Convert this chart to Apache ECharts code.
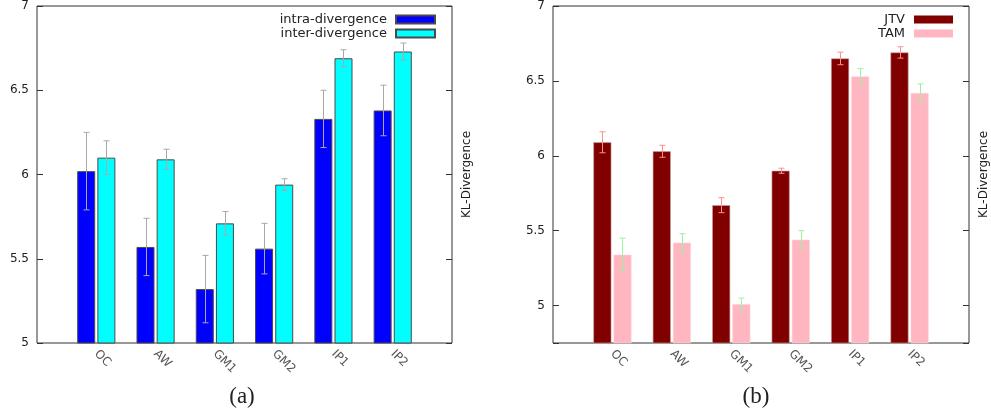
<!DOCTYPE html>
<html>
<head>
<meta charset="utf-8">
<script src="https://cdn.jsdelivr.net/npm/echarts@6/dist/echarts.min.js"></script>
<style>
  html, body { margin: 0; padding: 0; background: #fff; }
  #chart { width: 991px; height: 412px; }
</style>
</head>
<body>
<div id="chart"></div>
<script>
// categories (blank slot at both ends, like the gnuplot original)
const categories = ['OC', 'AW', 'GM1', 'GM2', 'IP1', 'IP2'];

// (a) intra / inter divergence
const intraValues = [6.02, 5.57, 5.32, 5.56, 6.33, 6.38];
const intraErr = [0.23, 0.17, 0.2, 0.15, 0.17, 0.15];
const interValues = [6.10, 6.09, 5.71, 5.94, 6.69, 6.73];
const interErr = [0.1, 0.06, 0.07, 0.035, 0.05, 0.05];

// (b) JTV / TAM
const jtvValues = [6.09, 6.03, 5.67, 5.90, 6.65, 6.69];
const jtvErr = [0.07, 0.04, 0.05, 0.017, 0.042, 0.038];
const tamValues = [5.34, 5.42, 5.01, 5.44, 6.53, 6.42];
const tamErr = [0.11, 0.06, 0.04, 0.06, 0.052, 0.06];

const FONT = 'DejaVu Sans';
const axisData = [''].concat(categories, ['']);
const pad = arr => [null].concat(arr, [null]);
const errData = (vals, errs) => vals.map((v, i) => [i + 1, v - errs[i], v + errs[i]]);

// error bar drawn beside the category tick
function errorItem(offset, color) {
  return function (params, api) {
    const x = api.value(0);
    const lo = api.coord([x, api.value(1)]);
    const hi = api.coord([x, api.value(2)]);
    const cx = Math.round(lo[0] + offset) + 0.5;
    const style = { stroke: color, lineWidth: 1 };
    return {
      type: 'group',
      children: [
        { type: 'line', shape: { x1: cx, y1: hi[1], x2: cx, y2: lo[1] }, style: style },
        { type: 'line', shape: { x1: cx - 3, y1: hi[1], x2: cx + 3, y2: hi[1] }, style: style },
        { type: 'line', shape: { x1: cx - 3, y1: lo[1], x2: cx + 3, y2: lo[1] }, style: style }
      ]
    };
  };
}

function xAxisFor(gridIndex) {
  return {
    type: 'category', gridIndex: gridIndex, data: axisData, boundaryGap: false,
    axisLine: { show: false }, axisTick: { show: false },
    axisLabel: { rotate: -45, margin: 9, color: '#555', fontSize: 12, fontFamily: FONT, interval: 0 }
  };
}

function yAxesFor(gridIndex, min) {
  const common = {
    type: 'value', gridIndex: gridIndex, min: min, max: 7,
    minInterval: 0.5, maxInterval: 0.5,
    splitLine: { show: false },
    axisLine: { show: false },
    axisTick: { show: true, inside: true, length: 6, lineStyle: { color: '#333' } }
  };
  return [
    Object.assign({}, common, {
      position: 'left',
      axisLabel: {
        color: '#222', fontSize: 12, fontFamily: FONT, margin: 8,
        formatter: v => (Math.abs(v * 2 - Math.round(v * 2)) < 1e-6 ? String(v) : '')
      }
    }),
    Object.assign({}, common, {
      position: 'right',
      axisLabel: { show: false },
      name: 'KL-Divergence', nameLocation: 'middle', nameRotate: 90, nameGap: 9,
      nameTextStyle: { color: '#222', fontSize: 12, fontFamily: FONT }
    })
  ];
}

const legendText = { fontSize: 13, color: '#222', fontFamily: FONT, padding: [0, 4, 0, 0] };

const chart = echarts.init(document.getElementById('chart'));
chart.setOption({
  animation: false,
  textStyle: { fontFamily: FONT },
  grid: [
    { left: 37, top: 6, width: 415, height: 337, show: true, borderColor: '#333', borderWidth: 1 },
    { left: 553, top: 6, width: 416, height: 337, show: true, borderColor: '#333', borderWidth: 1 }
  ],
  legend: [
    {
      data: ['intra-divergence', 'inter-divergence'],
      orient: 'vertical', align: 'right', right: 555, top: 13, padding: 0, itemGap: 1,
      itemWidth: 39, itemHeight: 8, icon: 'rect',
      textStyle: legendText
    },
    {
      data: ['JTV', 'TAM'],
      orient: 'vertical', align: 'right', right: 38, top: 13, padding: 0, itemGap: 1,
      itemWidth: 39, itemHeight: 8, icon: 'rect',
      itemStyle: { borderWidth: 0 },
      textStyle: legendText
    }
  ],
  xAxis: [xAxisFor(0), xAxisFor(1)],
  yAxis: yAxesFor(0, 5).concat(yAxesFor(1, 4.75)),
  series: [
    {
      name: 'intra-divergence', type: 'bar', xAxisIndex: 0, yAxisIndex: 0,
      data: pad(intraValues), barWidth: 18, barGap: '12%',
      itemStyle: { color: '#0000ff', borderColor: '#4a4a4a', borderWidth: 1 }
    },
    {
      name: 'inter-divergence', type: 'bar', xAxisIndex: 0, yAxisIndex: 0,
      data: pad(interValues), barWidth: 18, barGap: '12%',
      itemStyle: { color: '#00ffff', borderColor: '#4a4a4a', borderWidth: 1 }
    },
    {
      type: 'custom', xAxisIndex: 0, yAxisIndex: 0, z: 5,
      renderItem: errorItem(-10, '#a8a8a8'), data: errData(intraValues, intraErr)
    },
    {
      type: 'custom', xAxisIndex: 0, yAxisIndex: 0, z: 5,
      renderItem: errorItem(10, '#a8a8a8'), data: errData(interValues, interErr)
    },
    {
      name: 'JTV', type: 'bar', xAxisIndex: 1, yAxisIndex: 2,
      data: pad(jtvValues), barWidth: 18, barGap: '12%',
      itemStyle: { color: '#800000', borderColor: '#c8a0a0', borderWidth: 0.6 }
    },
    {
      name: 'TAM', type: 'bar', xAxisIndex: 1, yAxisIndex: 2,
      data: pad(tamValues), barWidth: 18, barGap: '12%',
      itemStyle: { color: '#ffb6c1', borderColor: '#ffd6dc', borderWidth: 0.6 }
    },
    {
      type: 'custom', xAxisIndex: 1, yAxisIndex: 2, z: 5,
      renderItem: errorItem(-10, '#ff8f8f'), data: errData(jtvValues, jtvErr)
    },
    {
      type: 'custom', xAxisIndex: 1, yAxisIndex: 2, z: 5,
      renderItem: errorItem(10, '#9ff09f'), data: errData(tamValues, tamErr)
    }
  ],
  graphic: [
    {
      type: 'text', x: 242, y: 397,
      style: { text: '(a)', font: '23px "Liberation Serif"', fill: '#222', align: 'center', verticalAlign: 'middle' }
    },
    {
      type: 'text', x: 756, y: 397,
      style: { text: '(b)', font: '23px "Liberation Serif"', fill: '#222', align: 'center', verticalAlign: 'middle' }
    }
  ]
});
</script>
</body>
</html>
